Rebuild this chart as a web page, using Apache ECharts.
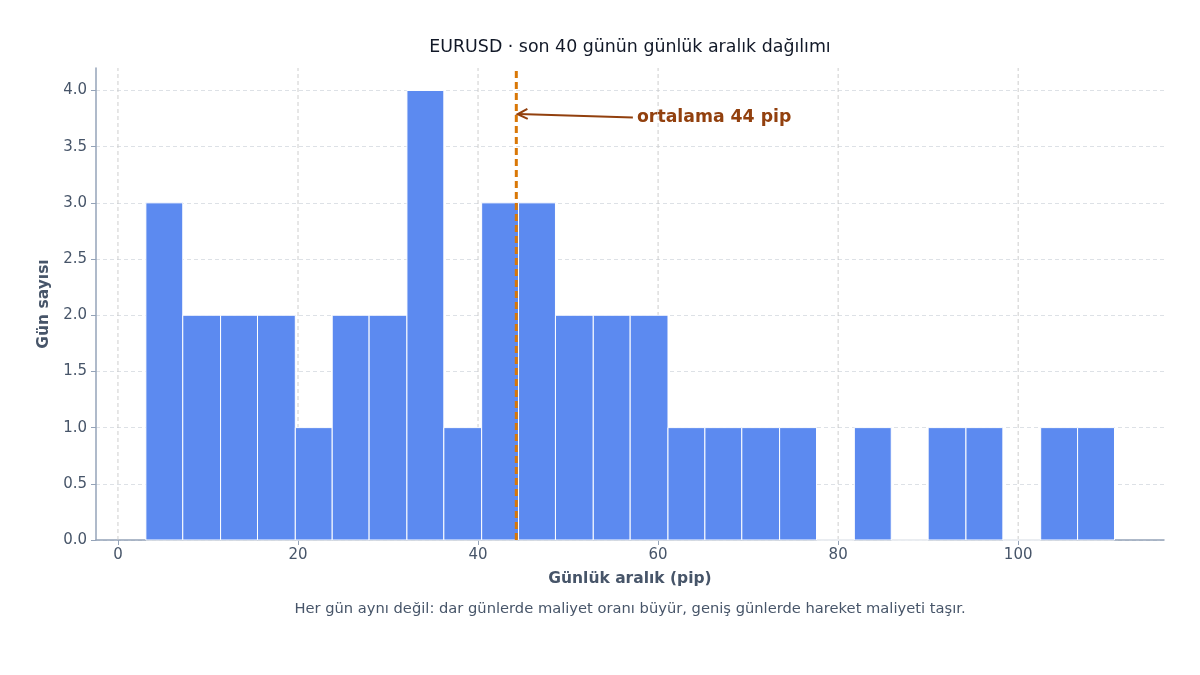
<!DOCTYPE html>
<html>
<head>
<meta charset="utf-8">
<script src="https://cdn.jsdelivr.net/npm/echarts@6/dist/echarts.min.js"></script>
<style>
  html, body { margin: 0; padding: 0; background: #fff; }
  #main { width: 1200px; height: 675px; }
</style>
</head>
<body>
<div id="main"></div>
<script>
// bin edges (pip) and day counts per bin
const binEdges = [3.1, 7.2, 11.4, 15.5, 19.7, 23.8, 27.9, 32.1, 36.2, 40.4, 44.5, 48.6, 52.8,
  56.9, 61.1, 65.2, 69.3, 73.5, 77.6, 81.8, 85.9, 90.0, 94.2, 98.3, 102.5, 106.6, 110.7]
const binCounts = [3, 2, 2, 2, 1, 2, 2, 4, 1, 3, 3, 2, 2, 2, 1, 1, 1, 1, 0, 1, 0, 1, 1, 0, 1, 1]
const meanPip = 44.25
const xTicks = [0, 20, 40, 60, 80, 100]
const annotFrom = [57.2, 3.76]
const annotTo = [44.5, 3.79]

const histData = binCounts.map((c, i) => [binEdges[i], binEdges[i + 1], c])

const chart = echarts.init(document.getElementById("main"))
const font = "DejaVu Sans"
const slate = "#475569"
const brown = "#92400e"

chart.setOption({
  backgroundColor: "#fff",
  textStyle: { fontFamily: font },
  title: {
    text: "EURUSD · son 40 günün günlük aralık dağılımı",
    left: 625,
    top: 34,
    textAlign: "center",
    textStyle: { fontFamily: font, fontSize: 17.4, fontWeight: "normal", color: "#111827" },
  },
  grid: { left: 96, right: 36, top: 68, bottom: 135 },
  xAxis: {
    type: "value",
    min: -2.44,
    max: 116.2,
    interval: 20,
    name: "Günlük aralık (pip)",
    nameLocation: "middle",
    nameGap: 31,
    nameTextStyle: { fontFamily: font, fontSize: 15.5, fontWeight: "bold", color: slate },
    axisLine: { show: true, onZero: false, lineStyle: { color: "#94a3b8", width: 1.5 } },
    axisTick: {
      show: true, length: 5, lineStyle: { color: "#94a3b8" },
      customValues: xTicks,
    },
    axisLabel: {
      fontSize: 15, color: slate, margin: 8,
      customValues: xTicks,
      formatter: v => String(v),
    },
    splitLine: { show: false },
  },
  yAxis: {
    type: "value",
    min: 0,
    max: 4.2,
    interval: 0.5,
    name: "Gün sayısı",
    nameLocation: "middle",
    nameGap: 39,
    nameTextStyle: { fontFamily: font, fontSize: 15.5, fontWeight: "bold", color: slate },
    axisLine: { show: true, onZero: false, lineStyle: { color: "#94a3b8", width: 1.5 } },
    axisTick: { show: true, length: 5, lineStyle: { color: "#94a3b8" } },
    axisLabel: {
      fontSize: 15, color: slate, margin: 9,
      formatter: v => v.toFixed(1),
      showMaxLabel: false,
    },
    splitLine: {
      show: true, showMaxLine: false,
      lineStyle: { color: "#dde1e6", type: [4, 3], width: 1 },
    },
  },
  graphic: [
    {
      type: "text",
      x: 630,
      y: 602,
      style: {
        text: "Her gün aynı değil: dar günlerde maliyet oranı büyür, geniş günlerde hareket maliyeti taşır.",
        fontFamily: font, fontSize: 14.7, fill: slate, align: "center",
      },
    },
  ],
  series: [
    {
      // vertical grid lines at the x ticks
      type: "custom",
      silent: true,
      z: 1,
      data: xTicks.map(t => [t]),
      renderItem: (params, api) => {
        const p0 = api.coord([api.value(0), 0])
        const p1 = api.coord([api.value(0), 4.2])
        return {
          type: "line",
          shape: { x1: p0[0], y1: p0[1], x2: p1[0], y2: p1[1] },
          style: { stroke: "#c8c8c8", lineWidth: 0.9, lineDash: [4, 3] },
        }
      },
    },
    {
      type: "custom",
      name: "Gün",
      z: 2,
      data: histData,
      renderItem: (params, api) => {
        const p0 = api.coord([api.value(0), 0])
        const p1 = api.coord([api.value(1), api.value(2)])
        return {
          type: "rect",
          shape: { x: p0[0], y: p1[1], width: p1[0] - p0[0], height: p0[1] - p1[1] },
          style: { fill: "#5c8af0", stroke: "#ffffff", lineWidth: 1 },
        }
      },
    },
    {
      // mean line
      type: "custom",
      silent: true,
      z: 5,
      data: [[meanPip]],
      renderItem: (params, api) => {
        const p0 = api.coord([api.value(0), 0])
        const p1 = api.coord([api.value(0), 4.2])
        return {
          type: "line",
          shape: { x1: p0[0], y1: p0[1], x2: p1[0], y2: p1[1] },
          style: { stroke: "#d97706", lineWidth: 3, lineDash: [7, 4] },
        }
      },
    },
    {
      type: "line",
      silent: true,
      z: 6,
      symbol: "none",
      data: [annotFrom, annotTo],
      lineStyle: { color: brown, width: 2 },
      markPoint: {
        symbol: "path://M10,0L0,5L10,10",
        symbolSize: [10, 10],
        symbolOffset: [4, 0],
        symbolRotate: 2,
        itemStyle: { color: "none", borderColor: brown, borderWidth: 2 },
        label: { show: false },
        data: [{ coord: annotTo }],
      },
    },
    {
      type: "scatter",
      silent: true,
      z: 6,
      symbolSize: 1,
      itemStyle: { color: "rgba(0,0,0,0)", opacity: 1 },
      data: [[annotFrom[0] + 0.4, annotFrom[1]]],
      label: {
        show: true,
        position: "right",
        distance: 0,
        opacity: 1,
        formatter: "ortalama 44 pip",
        fontFamily: font,
        fontSize: 17.3,
        fontWeight: "bold",
        color: brown,
      },
    },
  ],
})
</script>
</body>
</html>
